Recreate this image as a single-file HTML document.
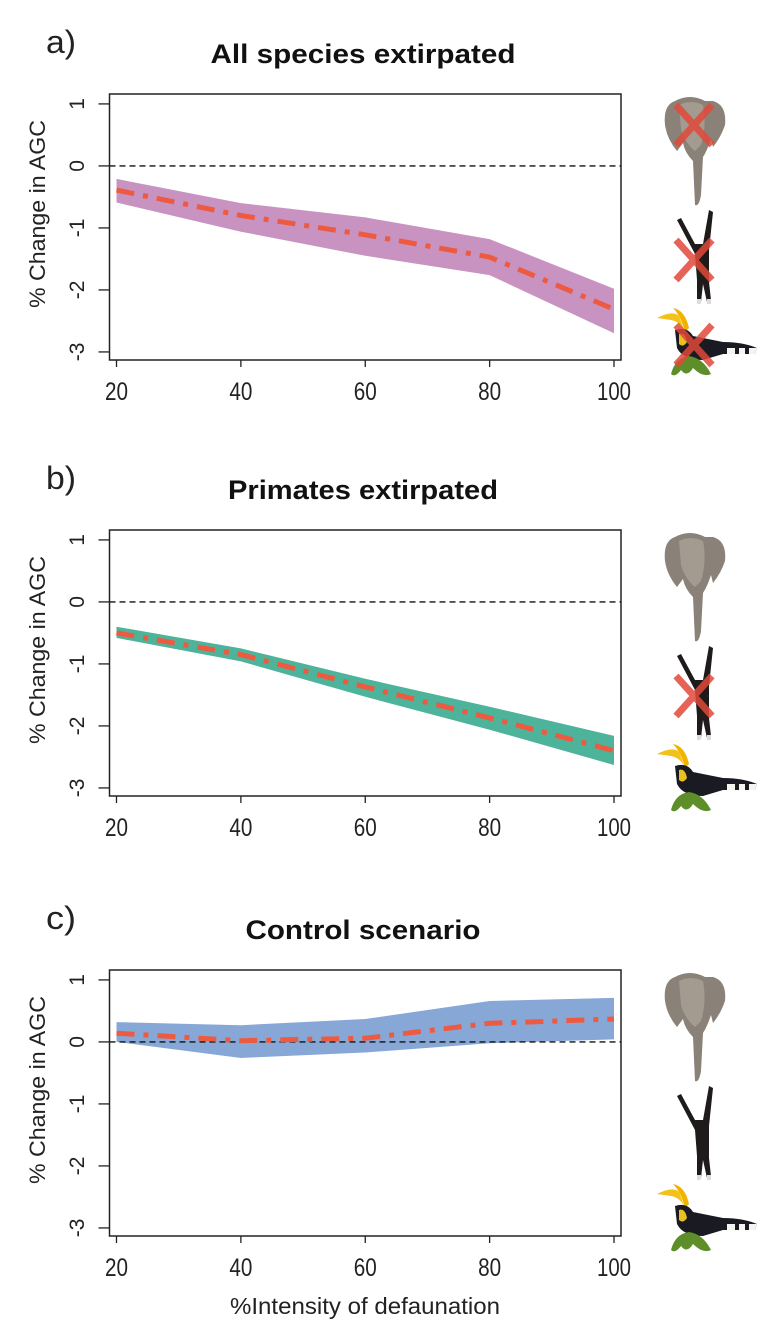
<!DOCTYPE html>
<html><head><meta charset="utf-8"><style>
html,body{margin:0;padding:0;background:#fff;}
svg{display:block;font-family:"Liberation Sans",Arial,sans-serif;}
</style></head><body>
<svg id="chart" width="776" height="1342" viewBox="0 0 776 1342" xmlns="http://www.w3.org/2000/svg">
<defs>
<g id="elephant">
  <path d="M20,6 Q35,-2 50,6 L58,6 Q72,10 70,30 Q66,42 58,52 L56,44 Q52,56 48,62 L46,100 Q44,112 40,110 L38,66 Q30,58 28,48 L22,56 Q12,44 10,30 Q8,10 20,6 Z" fill="#8a8178"/>
  <path d="M24,10 Q36,4 48,10 Q52,30 46,50 L40,56 Q30,48 26,34 Z" fill="#a39a90"/>
</g>
<g id="gibbon">
  <path d="M12,10 L16,8 L30,34 L38,34 L44,0 L48,2 L44,40 L44,72 L46,90 L42,92 L38,74 L36,92 L32,92 L32,70 L30,44 Z" fill="#1e1b1a"/>
  <rect x="32" y="89" width="4" height="5" fill="#ddd"/><rect x="42" y="89" width="4" height="5" fill="#ddd"/>
</g>
<g id="hornbill">
  <path d="M4,10 Q20,2 26,8 L32,24 Q28,14 18,12 Z" fill="#f2c21a"/>
  <path d="M20,0 Q32,2 36,20 L32,24 Q28,8 20,0 Z" fill="#f0b400"/>
  <path d="M22,22 Q34,18 40,28 L70,34 Q90,34 104,40 L102,46 Q86,46 70,46 L50,52 Q30,52 24,40 Z" fill="#1a1a22"/>
  <path d="M26,26 Q32,24 34,34 Q30,40 26,36 Z" fill="#e8c020"/>
  <path d="M74,40 L104,40 L102,46 L74,46 Z" fill="#f4f4f0"/>
  <rect x="82" y="40" width="4" height="6" fill="#1a1a22"/><rect x="92" y="40" width="4" height="6" fill="#1a1a22"/>
  <path d="M18,66 Q22,50 36,48 Q50,50 58,66 Q50,70 40,60 Q34,70 28,62 Q22,70 18,66 Z" fill="#5e8e2a"/>
</g>
<g id="redx"><path d="M0,0 L36,40 M36,0 L0,40" stroke="#e0493a" stroke-opacity="0.85" stroke-width="7"/></g>
</defs>
<g id="panels"></g>
<text x="365" y="1314" text-anchor="middle" font-size="23" fill="#222" textLength="270" lengthAdjust="spacingAndGlyphs">%Intensity of defaunation</text>
</svg>
<script>
const xValues = [20, 40, 60, 80, 100];
const xTicks = [20, 40, 60, 80, 100];
const yTicks = [1, 0, -1, -2, -3];
const meanA = [-0.39, -0.80, -1.11, -1.47, -2.31];
const upperA = [-0.21, -0.60, -0.83, -1.18, -1.98];
const lowerA = [-0.59, -1.06, -1.45, -1.76, -2.70];
const meanB = [-0.50, -0.85, -1.37, -1.87, -2.40];
const upperB = [-0.40, -0.75, -1.24, -1.69, -2.16];
const lowerB = [-0.58, -0.96, -1.53, -2.06, -2.63];
const meanC = [0.14, 0.02, 0.06, 0.30, 0.37];
const upperC = [0.32, 0.27, 0.37, 0.66, 0.71];
const lowerC = [0.00, -0.26, -0.17, -0.02, 0.04];
const titles = ["All species extirpated", "Primates extirpated", "Control scenario"];
const titleWidths = [305, 270, 235];
const letters = ["a)", "b)", "c)"];

const NS = "http://www.w3.org/2000/svg";
const panelsDef = [
  {top: 94, mean: meanA, up: upperA, lo: lowerA, fill: "#c893c0", x: [1,1,1], key: "a"},
  {top: 530, mean: meanB, up: upperB, lo: lowerB, fill: "#4db39a", x: [0,1,0], key: "b"},
  {top: 970, mean: meanC, up: upperC, lo: lowerC, fill: "#87a8d6", x: [0,0,0], key: "c"}
];
const boxL = 109.5, boxR = 621, boxH = 266, yMax = 1.16, yMin = -3.13;
function xs(v){ return 116.5 + (v - 20) / 80 * (614 - 116.5); }
function mk(tag, attrs, parent){ const e = document.createElementNS(NS, tag); for (const k in attrs) e.setAttribute(k, attrs[k]); parent.appendChild(e); return e; }
const root = document.getElementById("panels");

panelsDef.forEach((p, i) => {
  const T = p.top;
  const ys = v => T + (yMax - v) / (yMax - yMin) * boxH;
  const g = mk("g", {}, root);
  
  
  const lt = mk("text", {x: 46, y: T - 41, "font-size": 32, fill: "#222", textLength: 30, lengthAdjust: "spacingAndGlyphs"}, g);
  lt.textContent = letters[i];
  
  
  const tt = mk("text", {x: 363, y: T - 31, "text-anchor": "middle", "font-size": 27, "font-weight": "bold", fill: "#111", textLength: titleWidths[i], lengthAdjust: "spacingAndGlyphs"}, g);
  tt.textContent = titles[i];
  
  
  let d = "";
  xValues.forEach((x, j) => { d += (j ? "L" : "M") + xs(x).toFixed(1) + "," + ys(p.up[j]).toFixed(1); });
  for (let j = xValues.length - 1; j >= 0; j--) d += "L" + xs(xValues[j]).toFixed(1) + "," + ys(p.lo[j]).toFixed(1);
  const band = mk("path", {d: d + "Z", fill: p.fill}, g);
  
  
  const zl = mk("line", {x1: boxL, x2: boxR, y1: ys(0), y2: ys(0), stroke: "#111", "stroke-width": 1.4, "stroke-dasharray": "6 4"}, g);
  
  
  const pts = xValues.map((x, j) => xs(x).toFixed(1) + "," + ys(p.mean[j]).toFixed(1)).join(" ");
  const ml = mk("polyline", {points: pts, fill: "none", stroke: "#ee5a40", "stroke-width": 5, "stroke-dasharray": "18 9 5 9", "stroke-linecap": "butt"}, g);
  
  
  const box = mk("rect", {x: boxL, y: T, width: boxR - boxL, height: boxH, fill: "none", stroke: "#222", "stroke-width": 1.5}, g);
  
  
  yTicks.forEach(v => {
    const y = ys(v);
    const tk = mk("line", {x1: boxL - 11, x2: boxL, y1: y, y2: y, stroke: "#222", "stroke-width": 1.3}, g);
    
    
    const tl = mk("text", {x: 0, y: 0, transform: "translate(84," + y + ") rotate(-90)", "text-anchor": "middle", "font-size": 21, fill: "#222"}, g);
    tl.textContent = v;
    
    
  });
  xTicks.forEach(v => {
    const x = xs(v);
    const tk = mk("line", {x1: x, x2: x, y1: T + boxH, y2: T + boxH + 7, stroke: "#222", "stroke-width": 1.3}, g);
    
    
    const tl = mk("text", {x: x, y: T + boxH + 40, "text-anchor": "middle", "font-size": 25, fill: "#222", "textLength": v === 100 ? 34 : 23, lengthAdjust: "spacingAndGlyphs"}, g);
    tl.textContent = v;
    
    
  });
  const yt = mk("text", {x: 0, y: 0, transform: "translate(45," + (T + 120) + ") rotate(-90)", "text-anchor": "middle", "font-size": 22, fill: "#222", textLength: 188, lengthAdjust: "spacingAndGlyphs"}, g);
  yt.textContent = "% Change in AGC";
  
  
  const icons = [["elephant", 655, T + 1], ["gibbon", 665, T + 116], ["hornbill", 653, T + 214]];
  const xPos = [T + 11, T + 146, T + 231];
  icons.forEach((ic, k) => {
    const u = mk("use", {href: "#" + ic[0], x: ic[1], y: ic[2]}, g);
    
    
    if (p.x[k]) {
      const r = mk("use", {href: "#redx", x: 676, y: xPos[k]}, g);
      
      
    }
  });
});
</script>
</body></html>
